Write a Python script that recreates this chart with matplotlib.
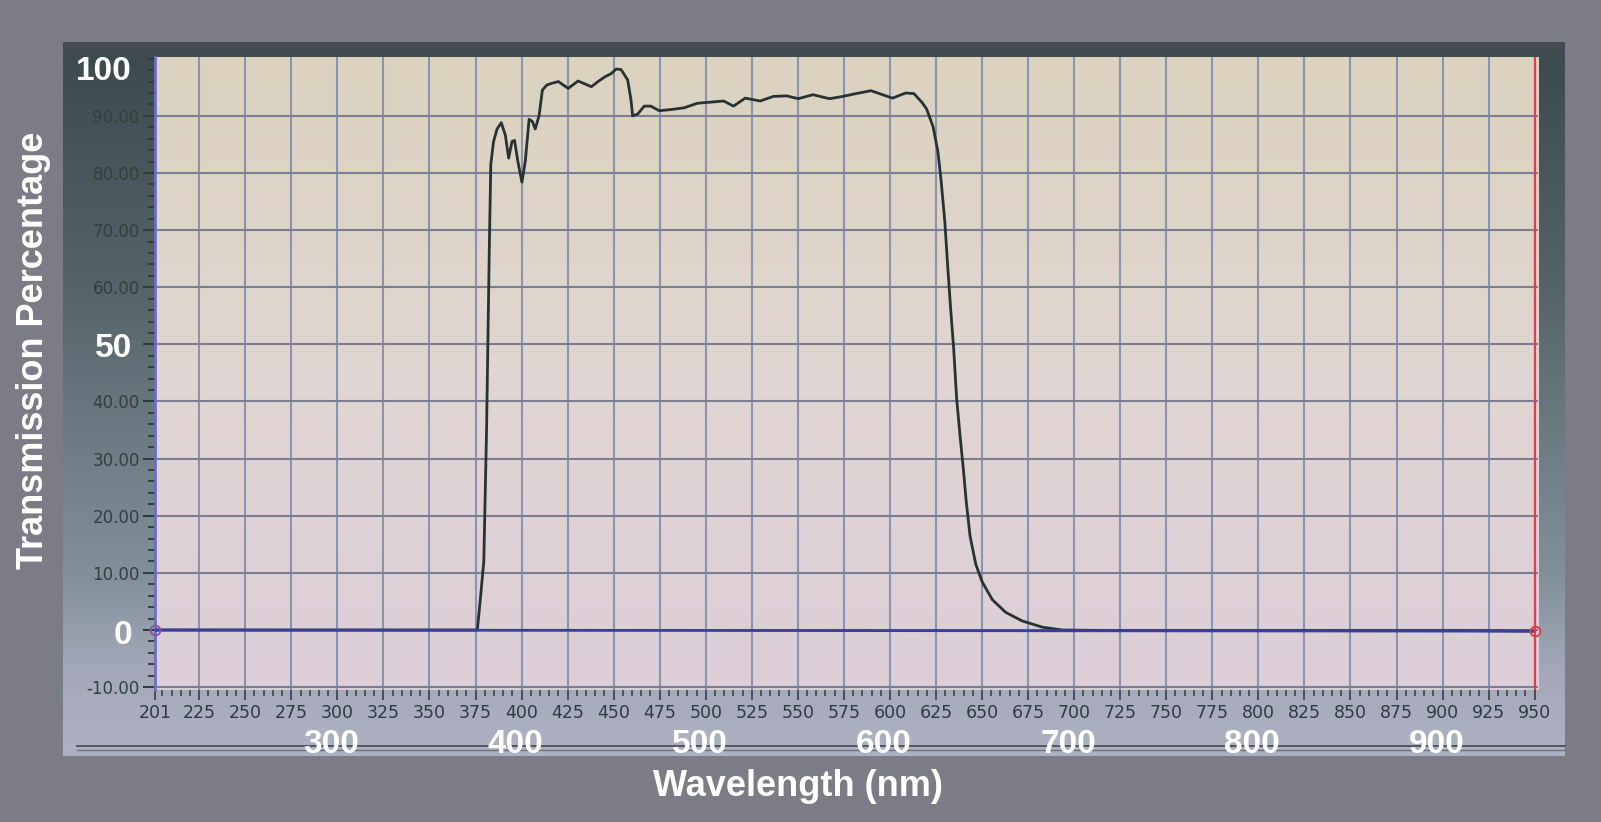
import numpy as np
import matplotlib
matplotlib.use("Agg")
import matplotlib.pyplot as plt
from matplotlib import transforms
from matplotlib.colors import LinearSegmentedColormap

# ---------------- data ----------------
wavelength_nm = [201, 376, 377.5, 379.5, 381, 382.5, 383.3, 384.8, 386.7, 389.0, 391.2,
                 393.0, 394.8, 396.2, 398.0, 400.2, 402.0, 404.1, 405.9, 407.4, 409.5,
                 411.3, 413.7, 416.4, 420.0, 425.3, 430.7, 437.9, 441.5, 445.1, 448.7,
                 451.4, 454.0, 457.6, 459.4, 460.3, 463.0, 466.6, 470.2, 474.7, 481.0,
                 488.2, 495.4, 502.6, 509.7, 515.1, 521.4, 529.5, 536.7, 543.9, 550.2,
                 558.2, 567.2, 574.4, 581.6, 589.7, 596.0, 601.4, 608.5, 613.0, 617.5,
                 619.9, 623.4, 626.0, 627.7, 629.8, 631.4, 633.0, 634.6, 636.2, 638.2,
                 639.9, 641.4, 643.5, 646.6, 650.1, 655.6, 662.8, 671.7, 682.7, 693.6,
                 720, 905, 912, 950]
transmission = [0.0, 0.0, 5.0, 12.0, 35.0, 67.0, 81.5, 85.5, 87.7, 88.8, 86.6,
                82.6, 85.5, 85.7, 82.0, 78.4, 82.0, 89.4, 89.0, 87.7, 90.0,
                94.5, 95.4, 95.7, 96.0, 94.8, 96.1, 95.1, 96.0, 96.8, 97.4,
                98.2, 98.1, 96.3, 92.8, 90.0, 90.3, 91.7, 91.7, 90.9, 91.1,
                91.4, 92.2, 92.4, 92.6, 91.7, 93.1, 92.6, 93.4, 93.5, 93.0,
                93.7, 93.0, 93.4, 93.9, 94.4, 93.7, 93.1, 94.0, 93.9, 92.3,
                91.2, 88.1, 83.8, 78.9, 71.4, 63.4, 56.0, 49.2, 40.5, 33.5,
                28.0, 22.5, 16.4, 11.5, 8.4, 5.3, 3.1, 1.6, 0.5, 0.0,
                -0.1, -0.1, -0.1, -0.2]

baseline_nm = [201, 950]
baseline_pct = [0.0, -0.2]
cursor_nm = 950

x_tick_values = [201] + list(range(225, 951, 25))
x_tick_labels = [str(v) for v in x_tick_values]
y_tick_values = list(range(-10, 91, 10))
big_y_labels = [100, 50, 0]
# small labels hidden under the big white ones are left blank
y_tick_labels = ["" if v in big_y_labels else "%.2f" % v for v in y_tick_values]

big_x_labels = [300, 400, 500, 600, 700, 800, 900]

x_title = "Wavelength (nm)"
y_title = "Transmission Percentage"

# ---------------- figure ----------------
W, H = 1601, 822
fig = plt.figure(figsize=(W / 100, H / 100), dpi=100, facecolor="#7c7c86")

bg = fig.add_axes([0, 0, 1, 1], zorder=0)
bg.axis("off")

frame_cmap = LinearSegmentedColormap.from_list(
    "frame",
    [(0.0, "#464c54"), (0.02, "#3d4a4e"), (0.35, "#56646a"), (0.75, "#82909a"),
     (0.88, "#a3a8b8"), (1.0, "#aeb1c1")])
grad = np.linspace(0, 1, 256).reshape(-1, 1)
bg.imshow(grad, extent=[63, 1565, 756, 43], cmap=frame_cmap, aspect="auto",
          interpolation="bicubic", zorder=0)
bg.plot([77, 1565], [746, 746], color="#4a5058", lw=1.3, zorder=1)
bg.plot([77, 1565], [749.5, 749.5], color="#6b717c", lw=1.0, zorder=1)
bg.set_xlim(0, W)
bg.set_ylim(H, 0)

# main plot axes
x_lo, x_hi = 201, 952
y_lo, y_hi = -10.5, 100.3
ax = fig.add_axes([155 / W, 1 - 690 / H, (x_hi - x_lo) * 1.842 / W, 633 / H], zorder=2)

plot_cmap = LinearSegmentedColormap.from_list(
    "plotbg", [(0.0, "#dccfd8"), (0.5, "#e0d6d2"), (1.0, "#dbd3bf")])
ax.imshow(np.linspace(0, 1, 256).reshape(-1, 1), extent=(0, 1, 0, 1), origin="lower",
          transform=ax.transAxes, cmap=plot_cmap, aspect="auto", zorder=0,
          interpolation="bicubic")
ax.set_xlim(x_lo, x_hi)
ax.set_ylim(y_lo, y_hi)

ax.set_xticks(x_tick_values)
ax.set_xticklabels(x_tick_labels)
ax.set_xticks(np.arange(205, 951, 5), minor=True)
ax.set_yticks(y_tick_values)
ax.set_yticklabels(y_tick_labels)
ax.set_yticks(np.arange(-10, 101, 2), minor=True)

ax.xaxis.grid(True, which="major", color="#8c93ae", lw=1.5, zorder=1)
ax.yaxis.grid(True, which="major", color="#7b7e8e", lw=1.5, zorder=1)
ax.set_axisbelow(True)

ax.tick_params(axis="x", which="major", direction="out", length=7, width=1.3,
               color="#3e474c", pad=3, labelsize=12.5, labelcolor="#2f3a44")
ax.tick_params(axis="x", which="minor", direction="out", length=4, width=1.2,
               color="#3e474c")
ax.tick_params(axis="y", which="major", direction="out", length=9, width=1.4,
               color="#2f3a3a", pad=2, labelsize=12, labelcolor="#34403e")
ax.tick_params(axis="y", which="minor", direction="out", length=5, width=1.3,
               color="#2f3a3a")

for side in ("top", "right", "bottom"):
    ax.spines[side].set_visible(False)
ax.spines["left"].set_color("#6b6fc4")
ax.spines["left"].set_linewidth(2.0)

# data curve and baseline
ax.plot(wavelength_nm, transmission, color="#283232", lw=2.0, zorder=4)
ax.plot(baseline_nm, baseline_pct, color="#3a3f9e", lw=2.0, zorder=5)
ax.plot([baseline_nm[0]], [baseline_pct[0]], "o", mfc="none", mec="#8a55a8",
        ms=7, mew=1.4, zorder=6, clip_on=False)
ax.axvline(cursor_nm, color="#d8424e", lw=1.6, zorder=6)
ax.plot([baseline_nm[-1]], [baseline_pct[-1]], "o", mfc="none", mec="#d8424e",
        ms=7, mew=1.4, zorder=7, clip_on=False)

# big white annotations
title_font = dict(family="Liberation Sans", weight="bold", color="white", fontsize=26)
num_font = dict(family="Liberation Sans", weight="bold", color="white", fontsize=24)

tr_y = transforms.blended_transform_factory(bg.transData, ax.transData)
y_nudge = {100: -13, 50: -4, 0: -5}
for v in big_y_labels:
    t = transforms.offset_copy(tr_y, fig=fig, x=0, y=y_nudge.get(v, 0), units="dots")
    fig.text(132, v, str(v), transform=t, ha="right", va="center", zorder=10,
             **num_font)

tr_x = transforms.blended_transform_factory(ax.transData, bg.transData)
tx = transforms.offset_copy(tr_x, fig=fig, x=-6, y=0, units="dots")
for v in big_x_labels:
    fig.text(v, 744, str(v), transform=tx, ha="center", va="center", zorder=10,
             **num_font)

fig.text(798, 786, x_title, transform=bg.transData, ha="center", va="center",
         **title_font)
fig.text(34, 350, y_title, transform=bg.transData, ha="center", va="center",
         rotation=90, **title_font)

fig.savefig("out.png", dpi=100, facecolor=fig.get_facecolor())
